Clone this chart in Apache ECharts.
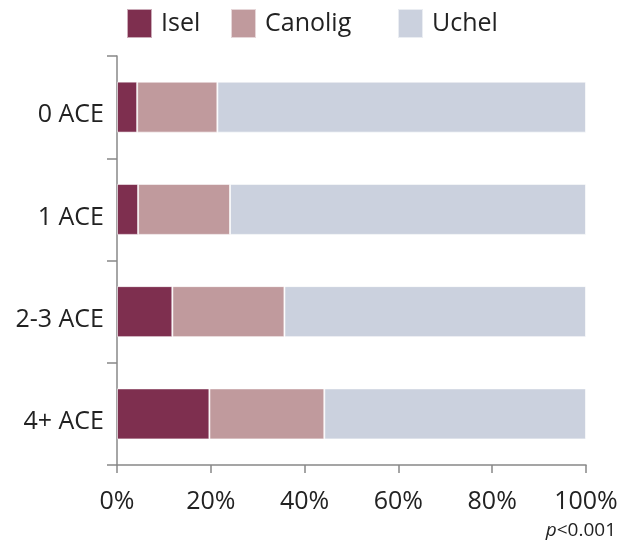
<!DOCTYPE html>
<html>
<head>
<meta charset="utf-8">
<script src="https://cdn.jsdelivr.net/npm/echarts@6/dist/echarts.min.js"></script>
<style>
  html, body { margin: 0; padding: 0; background: #fff; }
  #chart { width: 620px; height: 548px; }
</style>
</head>
<body>
<div id="chart"></div>
<script>
// ACE groups, top to bottom
const categories = ['0 ACE', '1 ACE', '2-3 ACE', '4+ ACE']
const seriesNames = ['Isel', 'Canolig', 'Uchel']
// percentages
const isel = [4.3, 4.5, 11.8, 19.7]
const canolig = [17.1, 19.6, 23.9, 24.5]
const uchel = [78.6, 75.9, 64.3, 55.8]
const xTicks = [0, 20, 40, 60, 80, 100]
const colors = ['#7e2f4f', '#c09a9d', '#cbd1de']

const font = '"Open Sans", "Noto Sans", sans-serif'
const chart = echarts.init(document.getElementById('chart'))

const legendPos = [126, 230, 397]
const values = [isel, canolig, uchel]

chart.setOption({
  animation: false,
  color: colors,
  legend: seriesNames.map((name, i) => ({
    data: [name],
    left: legendPos[i],
    top: 8,
    padding: 0,
    itemWidth: 25,
    itemHeight: 29,
    itemGap: 0,
    icon: 'rect',
    textStyle: { fontFamily: font, fontSize: 25, color: '#222', padding: [0, 0, 0, 4] },
  })),
  grid: { left: 117, right: 34, top: 56, bottom: 83, outerBoundsMode: 'none' },
  xAxis: {
    type: 'value',
    min: 0,
    max: 100,
    interval: 20,
    splitLine: { show: false },
    axisLine: { show: true, lineStyle: { color: '#888', width: 1.5 } },
    axisTick: { show: true, length: 8, lineStyle: { color: '#888', width: 1.5 } },
    axisLabel: {
      fontFamily: font, fontSize: 25, color: '#222', margin: 24,
      formatter: (v) => (xTicks.includes(v) ? v + '%' : ''),
    },
  },
  yAxis: {
    type: 'category',
    data: categories,
    inverse: true,
    axisLine: { show: true, lineStyle: { color: '#888', width: 1.5 } },
    axisTick: { show: true, length: 10, lineStyle: { color: '#888', width: 1.5 } },
    axisLabel: {
      fontFamily: font, fontSize: 25, color: '#222', margin: 13,
      verticalAlign: 'top', lineHeight: 16,
    },
  },
  series: seriesNames.map((name, i) => ({
    name,
    type: 'bar',
    stack: 'total',
    barWidth: 51,
    data: values[i],
    itemStyle: { borderColor: 'rgba(255,255,255,0.6)', borderWidth: 1 },
  })),
  graphic: [{
    type: 'text',
    right: 4,
    top: 521,
    style: {
      text: '{i|p}<0.001',
      fontFamily: font,
      fontSize: 19,
      fill: '#222',
      rich: { i: { fontStyle: 'italic', fontFamily: font, fontSize: 19, fill: '#222' } },
    },
  }],
})
</script>
</body>
</html>
